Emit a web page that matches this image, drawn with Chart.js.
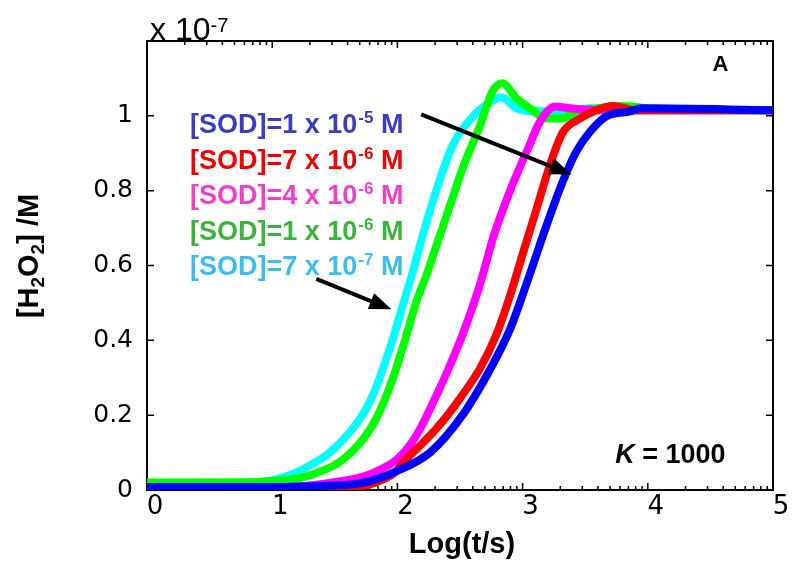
<!DOCTYPE html>
<html>
<head>
<meta charset="utf-8">
<script src="https://cdn.jsdelivr.net/npm/chart.js@4.4.1/dist/chart.umd.min.js"></script>
<style>
  html, body { margin: 0; padding: 0; background: #ffffff; }
  #wrap { width: 800px; height: 569px; position: relative; }
</style>
</head>
<body>
<div id="wrap"><canvas id="c" width="800" height="569"></canvas></div>
<script>
// ---------------- data (y in units of 1e-7 M, x = Log(t/s)) ----------------
const xBlue    = [0, 1.0, 1.4, 1.72, 1.99, 2.26, 2.52, 2.74, 2.90, 3.03, 3.19, 3.32, 3.43, 3.54, 3.67, 3.86, 3.95, 5.0];
const yBlue    = [0.008, 0.008, 0.011, 0.019, 0.05, 0.10, 0.20, 0.322, 0.43, 0.55, 0.706, 0.824, 0.905, 0.958, 0.999, 1.012, 1.02, 1.015];

const xRed     = [0, 1.0, 1.5, 1.72, 1.90, 1.99, 2.05, 2.20, 2.30, 2.40, 2.50, 2.66, 2.79, 2.90, 3.0, 3.11, 3.22, 3.32, 3.46, 3.59, 3.72, 3.9, 5.0];
const yRed     = [0.003, 0.003, 0.005, 0.01, 0.03, 0.05, 0.075, 0.125, 0.16, 0.20, 0.245, 0.325, 0.415, 0.52, 0.63, 0.75, 0.87, 0.955, 0.993, 1.015, 1.026, 1.015, 1.015];

const xMagenta = [0, 0.82, 1.22, 1.46, 1.72, 1.86, 1.99, 2.10, 2.20, 2.30, 2.39, 2.52, 2.66, 2.77, 2.90, 3.04, 3.14, 3.26, 3.38, 3.6, 5.0];
const yMagenta = [0.003, 0.005, 0.01, 0.019, 0.035, 0.054, 0.08, 0.12, 0.175, 0.245, 0.31, 0.415, 0.55, 0.68, 0.80, 0.91, 0.985, 1.025, 1.02, 1.015, 1.015];

const xGreen   = [0, 0.82, 1.10, 1.22, 1.35, 1.46, 1.56, 1.70, 1.83, 1.96, 2.07, 2.15, 2.23, 2.31, 2.42, 2.52, 2.66, 2.76, 2.84, 2.95, 3.06, 3.19, 3.32, 3.43, 3.59, 3.80, 4.02, 5.0];
const yGreen   = [0.02, 0.021, 0.026, 0.032, 0.045, 0.06, 0.08, 0.125, 0.19, 0.295, 0.411, 0.502, 0.572, 0.652, 0.760, 0.859, 0.974, 1.066, 1.087, 1.047, 1.020, 0.993, 0.993, 1.012, 1.020, 1.026, 1.020, 1.015];

const xCyan    = [0, 0.66, 0.98, 1.08, 1.20, 1.35, 1.46, 1.62, 1.72, 1.80, 1.88, 1.96, 2.04, 2.12, 2.21, 2.31, 2.44, 2.58, 2.71, 2.83, 2.95, 3.11, 3.32, 3.54, 3.78, 5.0];
const yCyan    = [0.019, 0.019, 0.025, 0.033, 0.048, 0.075, 0.10, 0.155, 0.20, 0.25, 0.32, 0.40, 0.49, 0.58, 0.69, 0.80, 0.92, 0.99, 1.03, 1.05, 1.02, 1.012, 1.012, 1.02, 1.015, 1.015];

const xTickValues = [0, 1, 2, 3, 4, 5];
const yTickValues = [0, 0.2, 0.4, 0.6, 0.8, 1, 1.2];

const legendBase  = ['[SOD]=1 x 10', '[SOD]=7 x 10', '[SOD]=4 x 10', '[SOD]=1 x 10', '[SOD]=7 x 10'];
const legendExp   = ['-5', '-6', '-6', '-6', '-7'];
const legendColor = ['#3b3bc4', '#f00000', '#f23fc8', '#3cb33c', '#3cbcef'];

// arrows in data coordinates: [x0, y0, x1, y1]
const arrows = [[2.19, 1.004, 3.39, 0.843], [1.352, 0.564, 1.952, 0.483]];

// ---------------- helpers ----------------
const pts = (xs, ys) => xs.map((x, i) => ({ x: x, y: ys[i] }));
const ds = (label, xs, ys, color) => ({
  label: label, data: pts(xs, ys), borderColor: color, backgroundColor: color,
  borderWidth: 8, pointRadius: 0, cubicInterpolationMode: 'monotone',
  borderJoinStyle: 'round', borderCapStyle: 'butt', fill: false
});

function drawRuns(ctx, x, y, runs) {
  let cx = x;
  for (const r of runs) {
    ctx.font = r.f;
    ctx.fillText(r.t, cx, y + (r.dy || 0));
    cx += ctx.measureText(r.t).width + (r.gap || 0);
  }
  return cx;
}
function runsWidth(ctx, runs) {
  let w = 0;
  for (const r of runs) { ctx.font = r.f; w += ctx.measureText(r.t).width + (r.gap || 0); }
  return w;
}

const frameTicks = {
  id: 'frameTicks',
  beforeDatasetsDraw(chart) {
    const { ctx, chartArea: a, scales: { x, y } } = chart;
    ctx.save();
    ctx.strokeStyle = '#000';
    ctx.lineWidth = 1.5;
    ctx.beginPath();
    for (const v of xTickValues) {
      const px = x.getPixelForValue(v);
      ctx.moveTo(px, a.bottom); ctx.lineTo(px, a.bottom - 7);
      ctx.moveTo(px, a.top); ctx.lineTo(px, a.top + 7);
    }
    for (let d = 0; d < 5; d++) {
      for (let k = 2; k <= 9; k++) {
        const px = x.getPixelForValue(d + Math.log10(k));
        ctx.moveTo(px, a.bottom); ctx.lineTo(px, a.bottom - 4);
        ctx.moveTo(px, a.top); ctx.lineTo(px, a.top + 4);
      }
    }
    for (const v of yTickValues) {
      const py = y.getPixelForValue(v);
      ctx.moveTo(a.left, py); ctx.lineTo(a.left + 7, py);
      ctx.moveTo(a.right, py); ctx.lineTo(a.right - 7, py);
    }
    ctx.stroke();
    ctx.lineWidth = 2;
    ctx.strokeRect(a.left, a.top, a.right - a.left, a.bottom - a.top);
    ctx.restore();
  }
};

const annotations = {
  id: 'annotations',
  afterDraw(chart) {
    const { ctx, scales: { x, y } } = chart;
    ctx.save();
    ctx.textBaseline = 'alphabetic';
    ctx.textAlign = 'left';

    ctx.fillStyle = '#000';
    drawRuns(ctx, 150, 40, [
      { t: 'x 10', f: '32px "Liberation Sans", Arial, sans-serif' },
      { t: '-7', f: '20px "Liberation Sans", Arial, sans-serif', dy: -8 }
    ]);

    ctx.font = 'bold 22px "Liberation Sans", Arial, sans-serif';
    ctx.textAlign = 'center';
    ctx.fillText('A', x.getPixelForValue(4.58), y.getPixelForValue(1.12));
    ctx.textAlign = 'left';

    drawRuns(ctx, x.getPixelForValue(3.74), y.getPixelForValue(0.072), [
      { t: 'K', f: 'italic bold 27px "Liberation Sans", Arial, sans-serif' },
      { t: ' = 1000', f: 'bold 27px "Liberation Sans", Arial, sans-serif' }
    ]);

    for (let i = 0; i < legendBase.length; i++) {
      ctx.fillStyle = legendColor[i];
      const by = 133 + i * 35.5;
      drawRuns(ctx, 190, by, [
        { t: legendBase[i], f: 'bold 27px "Liberation Sans", Arial, sans-serif', gap: 1 },
        { t: legendExp[i], f: 'bold 17px "Liberation Sans", Arial, sans-serif', dy: -10 },
        { t: ' M', f: 'bold 27px "Liberation Sans", Arial, sans-serif' }
      ]);
    }

    ctx.fillStyle = '#000';
    ctx.strokeStyle = '#000';
    for (const ar of arrows) {
      const x0 = x.getPixelForValue(ar[0]), y0 = y.getPixelForValue(ar[1]);
      const x1 = x.getPixelForValue(ar[2]), y1 = y.getPixelForValue(ar[3]);
      const ang = Math.atan2(y1 - y0, x1 - x0);
      const hl = 22, hw = 8.5;
      const bx = x1 - hl * Math.cos(ang), byy = y1 - hl * Math.sin(ang);
      ctx.lineWidth = 4;
      ctx.beginPath(); ctx.moveTo(x0, y0); ctx.lineTo(bx + 2 * Math.cos(ang), byy + 2 * Math.sin(ang)); ctx.stroke();
      ctx.beginPath();
      ctx.moveTo(x1, y1);
      ctx.lineTo(bx - hw * Math.sin(ang), byy + hw * Math.cos(ang));
      ctx.lineTo(bx + hw * Math.sin(ang), byy - hw * Math.cos(ang));
      ctx.closePath(); ctx.fill();
    }

    ctx.fillStyle = '#000';
    ctx.font = 'bold 29px "Liberation Sans", Arial, sans-serif';
    ctx.textAlign = 'center';
    ctx.fillText('Log(t/s)', 462, 553);

    ctx.textAlign = 'left';
    const big = 'bold 29px "Liberation Sans", Arial, sans-serif';
    const sub = 'bold 19px "Liberation Sans", Arial, sans-serif';
    const yRuns = [
      { t: '[H', f: big }, { t: '2', f: sub, dy: 6 }, { t: 'O', f: big },
      { t: '2', f: sub, dy: 6 }, { t: '] /M', f: big }
    ];
    const w = runsWidth(ctx, yRuns);
    ctx.translate(38, 256);
    ctx.rotate(-Math.PI / 2);
    drawRuns(ctx, -w / 2, 0, yRuns);
    ctx.restore();
  }
};

new Chart(document.getElementById('c'), {
  type: 'line',
  data: {
    datasets: [
      ds('[SOD]=1e-5 M', xBlue, yBlue, '#0000ff'),
      ds('[SOD]=7e-6 M', xRed, yRed, '#ff0000'),
      ds('[SOD]=4e-6 M', xMagenta, yMagenta, '#ff00ff'),
      ds('[SOD]=1e-6 M', xGreen, yGreen, '#00ff00'),
      ds('[SOD]=7e-7 M', xCyan, yCyan, '#00ffff')
    ]
  },
  options: {
    responsive: false,
    animation: false,
    devicePixelRatio: 1,
    layout: { padding: { top: 41, right: 27, left: 0, bottom: 0 } },
    plugins: { legend: { display: false }, tooltip: { enabled: false } },
    scales: {
      x: {
        type: 'linear', min: 0, max: 5,
        afterBuildTicks: (s) => { s.ticks = xTickValues.map(v => ({ value: v })); },
        afterFit: (s) => { s.height = 79; },
        grid: { display: false, drawTicks: false },
        border: { display: false },
        ticks: {
          color: '#000', padding: 2, labelOffset: 8, maxRotation: 0, autoSkip: false,
          font: { family: '"DejaVu Sans"', size: 26 },
          callback: (v) => String(v)
        }
      },
      y: {
        type: 'linear', min: 0, max: 1.2,
        afterBuildTicks: (s) => { s.ticks = yTickValues.map(v => ({ value: v })); },
        afterFit: (s) => { s.width = 147; },
        grid: { display: false, drawTicks: false },
        border: { display: false },
        ticks: {
          color: '#000', padding: 14, autoSkip: false,
          font: { family: '"DejaVu Sans"', size: 25 },
          callback: (v) => (v > 1.05 ? '' : String(Number(v.toFixed(1))))
        }
      }
    }
  },
  plugins: [frameTicks, annotations]
});
</script>
</body>
</html>
